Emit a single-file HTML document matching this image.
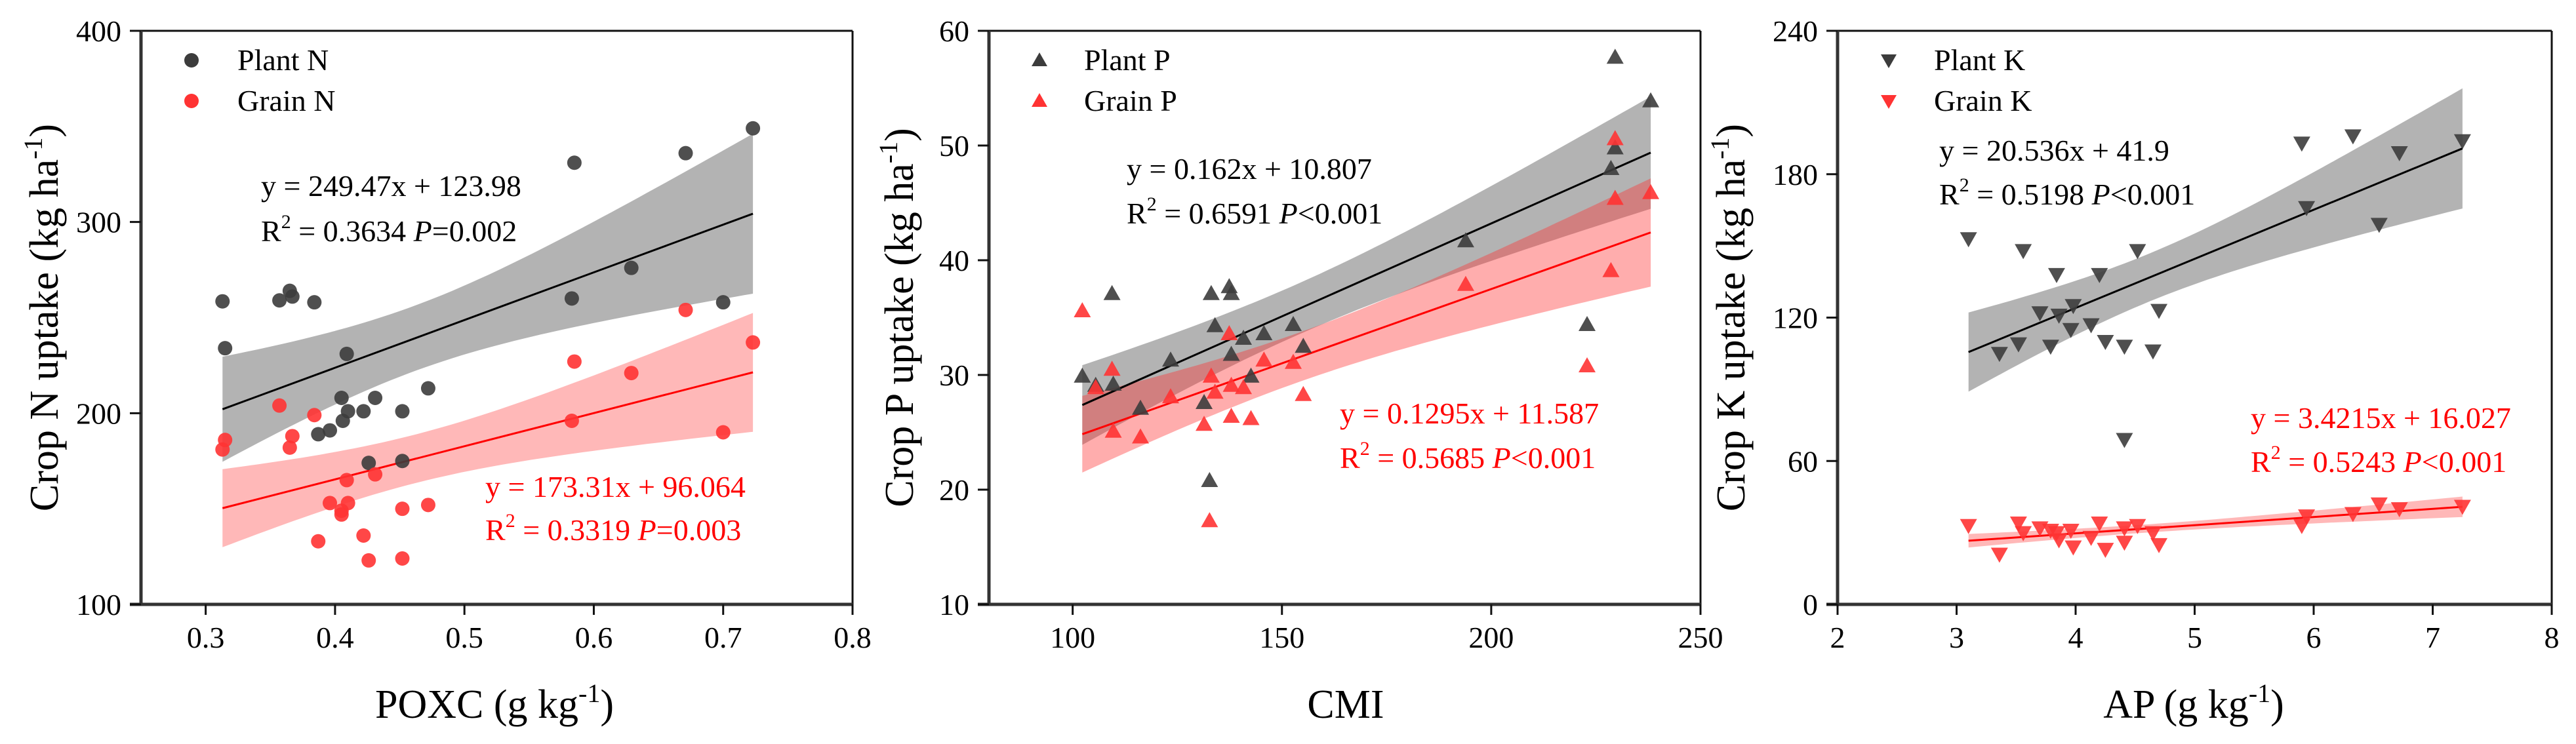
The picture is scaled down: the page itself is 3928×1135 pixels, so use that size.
<!DOCTYPE html>
<html><head><meta charset="utf-8"><style>
html,body{margin:0;padding:0;background:#fff;}
svg, svg text{font-family:"Liberation Serif","Times New Roman",serif;}
</style></head><body>
<svg id="fig" width="3928" height="1130" viewBox="0 0 3928 1130" xmlns="http://www.w3.org/2000/svg" font-family="'Liberation Serif', serif"></svg>
<script>
// ---- Panel 1 data (POXC vs N) ----
const poxcX = [0.313,0.315,0.357,0.365,0.367,0.384,0.585,0.671,0.723,0.629,0.583,0.70,0.409,0.405,0.431,0.41,0.422,0.452,0.472,0.387,0.396,0.406,0.426,0.452];
const plantN = [258.5,234,259,264,261,258,331,336,349,276,260,258,231,208,208,201,201,201,213,189,191,196,174,175];
const grainNX = [0.313,0.315,0.357,0.365,0.367,0.384,0.585,0.671,0.723,0.629,0.583,0.70,0.409,0.405,0.431,0.41,0.396,0.422,0.452,0.472,0.387,0.426,0.452,0.405];
const grainN = [181,186,204,182,188,199,227,254,237,221,196,190,165,147,168,153,153,136,150,152,133,123,124,149];
// ---- Panel 2 data (CMI vs P) ----
const cmiX = [102.3,105.5,109.4,109.7,116.2,123.4,131.4,133.1,134.0,137.4,137.9,137.9,140.8,142.6,145.7,152.7,155.1,132.7,193.9,222.9,228.6,229.6,229.6,238.1];
const plantP = [29.9,29.1,37.1,29.2,27.1,31.3,27.6,37.1,34.3,37.7,37.1,31.8,33.2,29.9,33.6,34.4,32.5,20.8,41.7,34.4,48.0,49.8,57.7,53.9];
const grainPX = [102.3,105.5,109.4,109.7,116.2,123.4,131.4,133.1,134.0,137.4,137.9,137.9,140.8,142.6,145.7,152.7,155.1,132.7,193.9,222.9,228.6,229.6,229.6,238.1];
const grainP = [35.6,28.9,30.5,25.1,24.6,28.1,25.7,29.9,28.5,33.6,26.4,29.1,28.9,26.2,31.3,31.1,28.3,17.3,37.9,30.8,39.1,50.6,45.4,45.9];
// ---- Panel 3 data (AP vs K) ----
const apX = [3.10,3.36,3.52,3.56,3.70,3.79,3.84,3.86,3.96,3.98,4.13,4.20,4.25,4.41,4.41,4.52,4.65,4.70,5.90,5.94,6.33,6.55,6.72,7.25];
const plantK = [153,105,109,148,122,108,138,121,115,125,117,138,110,108,69,148,106,123,193,166,196,159,189,194];
const grainK = [33,21,34,30,32,31,30,27,31,24,28,34,23,32,26,33,30,25,33,37,38,42,40,41];
// ---- regression coefficients (from printed equations) ----
const slopes = [249.47,173.31,0.162,0.1295,20.536,3.4215];
const intercepts = [123.98,96.064,10.807,11.587,41.9,16.027];
// ---- ticks ----
const xTicks1 = [0.3,0.4,0.5,0.6,0.7,0.8], yTicks1 = [100,200,300,400];
const xTicks2 = [100,150,200,250], yTicks2 = [10,20,30,40,50,60];
const xTicks3 = [2,3,4,5,6,7,8], yTicks3 = [0,60,120,180,240];

const NS = "http://www.w3.org/2000/svg";
const FF = "'Liberation Serif', serif";
const svg = document.getElementById('fig');
function el(tag, attrs, parent){ const e=document.createElementNS(NS,tag); for(const k in attrs) e.setAttribute(k,attrs[k]); if(tag==='text') e.setAttribute('font-family',FF); (parent||svg).appendChild(e); return e; }

function ci(xs, ys, a, b){
  const n=xs.length; const xm=xs.reduce((s,v)=>s+v,0)/n;
  let sse=0,sxx=0; for(let i=0;i<n;i++){const r=ys[i]-(a*xs[i]+b); sse+=r*r; sxx+=(xs[i]-xm)**2;}
  const s=Math.sqrt(sse/(n-2)); const t=2.074;
  return x=>t*s*Math.sqrt(1/n+(x-xm)**2/sxx);
}

function panel(p){
  const g=el('g',{});
  
  
  const sx=v=>p.L+(v-p.xd[0])/(p.xd[1]-p.xd[0])*(p.R-p.L);
  const sy=v=>p.B-(v-p.yd[0])/(p.yd[1]-p.yd[0])*(p.B-p.T);
  p.series.forEach(s=>{
    const xs=s.x, ys=s.y, a=slopes[s.k], b=intercepts[s.k];
    const x0=Math.min(...xs), x1=Math.max(...xs);
    const h=ci(xs,ys,a,b);
    let up=[],dn=[]; const N=60;
    for(let i=0;i<=N;i++){const x=x0+(x1-x0)*i/N; const yv=a*x+b; up.push(sx(x).toFixed(1)+','+sy(yv+h(x)).toFixed(1)); dn.unshift(sx(x).toFixed(1)+','+sy(yv-h(x)).toFixed(1));}
    const band=el('polygon',{points:up.concat(dn).join(' '),fill:s.band,'fill-opacity':s.bandOp},g);
    
    
  });
  p.series.forEach(s=>{
    const xs=s.x, a=slopes[s.k], b=intercepts[s.k];
    const x0=Math.min(...xs), x1=Math.max(...xs);
    const ln=el('line',{x1:sx(x0),y1:sy(a*x0+b),x2:sx(x1),y2:sy(a*x1+b),stroke:s.line,'stroke-width':3},g);
    
    
  });
  p.series.forEach(s=>{
    s.x.forEach((xv,i)=>{
      const cx=sx(xv), cy=sy(s.y[i]);
      let m;
      if(p.shape==='c') m=el('circle',{cx,cy,r:11,fill:s.color,'fill-opacity':0.9},g);
      else if(p.shape==='u') m=el('polygon',{points:`${cx-13},${cy+10} ${cx+13},${cy+10} ${cx},${cy-13}`,fill:s.color,'fill-opacity':0.9},g);
      else m=el('polygon',{points:`${cx-13},${cy-10} ${cx+13},${cy-10} ${cx},${cy+13}`,fill:s.color,'fill-opacity':0.9},g);
      
      
    });
  });
  const ax=el('g',{},g);
  
  
  el('line',{x1:p.L,y1:p.T,x2:p.R,y2:p.T,stroke:'#111','stroke-width':3},ax);
  el('line',{x1:p.R,y1:p.T,x2:p.R,y2:p.B,stroke:'#111','stroke-width':3},ax);
  el('line',{x1:p.L-17,y1:p.B,x2:p.R,y2:p.B,stroke:'#333','stroke-width':5},ax);
  el('line',{x1:p.L,y1:p.T,x2:p.L,y2:p.B+2,stroke:'#333','stroke-width':5},ax);
  p.xt.forEach(v=>{
    el('line',{x1:sx(v),y1:p.B,x2:sx(v),y2:p.B+16,stroke:'#111','stroke-width':3},ax);
    const t=el('text',{x:sx(v),y:988,'font-size':46,'text-anchor':'middle',fill:'#000'},ax); t.textContent=String(v);
    
    
  });
  p.yt.forEach(v=>{
    el('line',{x1:p.L-17,y1:sy(v),x2:p.L,y2:sy(v),stroke:'#111','stroke-width':3},ax);
    const t=el('text',{x:p.L-30,y:sy(v)+16,'font-size':46,'text-anchor':'end',fill:'#000'},ax); t.textContent=String(v);
    
    
  });
  const xt=el('text',{x:p.xtx,y:1095,'font-size':62,'text-anchor':'middle'},g);
  xt.innerHTML=p.xTitle;
  
  
  const yt=el('text',{x:0,y:0,'font-size':62,'text-anchor':'middle',transform:`translate(${p.ytx},${(p.T+p.B)/2}) rotate(-90)`},g);
  yt.innerHTML=p.yTitle+' (kg ha<tspan dy="-24" font-size="40">-1</tspan><tspan dy="24">)</tspan>';
  
  
  p.series.forEach((s,i)=>{
    const cy=[92,154][i], cx=p.legX;
    let m;
    if(p.shape==='c') m=el('circle',{cx,cy,r:11,fill:s.color},g);
    else if(p.shape==='u') m=el('polygon',{points:`${cx-12},${cy+9} ${cx+12},${cy+9} ${cx},${cy-12}`,fill:s.color},g);
    else m=el('polygon',{points:`${cx-12},${cy-9} ${cx+12},${cy-9} ${cx},${cy+12}`,fill:s.color},g);
    
    
    const t=el('text',{x:p.legTx,y:cy+15,'font-size':46,fill:'#000'},g); t.textContent=s.label;
    
    
  });
  p.eqs.forEach(e=>{
    const t1=el('text',{x:e.x,y:e.y1,'font-size':46,fill:e.c},g); t1.textContent=e.l1;
    
    
    const t2=el('text',{x:e.x,y:e.y2,'font-size':46,fill:e.c},g);
    t2.innerHTML='R<tspan dy="-20" font-size="30">2</tspan><tspan dy="20"> = '+e.r2+' </tspan><tspan font-style="italic">P</tspan>'+e.p;
    
    
  });
}

const black='#3c3c3c', red='#ff3333';
panel({name:'panel-nitrogen',L:215,R:1300,T:47,B:922,xd:[0.25,0.8],yd:[100,400],xt:xTicks1,yt:yTicks1,shape:'c',
  xtx:754,ytx:88,xTitle:'POXC (g kg<tspan dy="-24" font-size="40">-1</tspan><tspan dy="24">)</tspan>',yTitle:'Crop N uptake',
  legX:292,legTx:362,
  series:[{id:'plant-n',label:'Plant N',x:poxcX,y:plantN,k:0,color:black,band:'#808080',bandOp:0.6,line:'#000'},
          {id:'grain-n',label:'Grain N',x:grainNX,y:grainN,k:1,color:red,band:'#ff3333',bandOp:0.35,line:'#ff0000'}],
  eqs:[{x:398,y1:299,y2:368,c:'#000',l1:'y = 249.47x + 123.98',r2:'0.3634',p:'=0.002'},
       {x:740,y1:758,y2:824,c:'#ff0000',l1:'y = 173.31x + 96.064',r2:'0.3319',p:'=0.003'}]});
panel({name:'panel-phosphorus',L:1508,R:2593,T:47,B:922,xd:[80,250],yd:[10,60],xt:xTicks2,yt:yTicks2,shape:'u',
  xtx:2052,ytx:1392,xTitle:'CMI',yTitle:'Crop P uptake',
  legX:1585,legTx:1653,
  series:[{id:'plant-p',label:'Plant P',x:cmiX,y:plantP,k:2,color:black,band:'#808080',bandOp:0.6,line:'#000'},
          {id:'grain-p',label:'Grain P',x:grainPX,y:grainP,k:3,color:red,band:'#ff3333',bandOp:0.4,line:'#ff0000'}],
  eqs:[{x:1718,y1:273,y2:341,c:'#000',l1:'y = 0.162x + 10.807',r2:'0.6591 ',p:'<0.001'},
       {x:2043,y1:646,y2:714,c:'#ff0000',l1:'y = 0.1295x + 11.587',r2:'0.5685',p:'<0.001'}]});
panel({name:'panel-potassium',L:2802,R:3891,T:47,B:922,xd:[2,8],yd:[0,240],xt:xTicks3,yt:yTicks3,shape:'d',
  xtx:3345,ytx:2660,xTitle:'AP (g kg<tspan dy="-24" font-size="40">-1</tspan><tspan dy="24">)</tspan>',yTitle:'Crop K uptake',
  legX:2880,legTx:2949,
  series:[{id:'plant-k',label:'Plant K',x:apX,y:plantK,k:4,color:black,band:'#808080',bandOp:0.6,line:'#000'},
          {id:'grain-k',label:'Grain K',x:apX,y:grainK,k:5,color:red,band:'#ff3333',bandOp:0.35,line:'#ff0000'}],
  eqs:[{x:2957,y1:245,y2:312,c:'#000',l1:'y = 20.536x + 41.9',r2:'0.5198',p:'<0.001'},
       {x:3432,y1:653,y2:720,c:'#ff0000',l1:'y = 3.4215x + 16.027',r2:'0.5243',p:'<0.001'}]});
</script>
</body></html>
